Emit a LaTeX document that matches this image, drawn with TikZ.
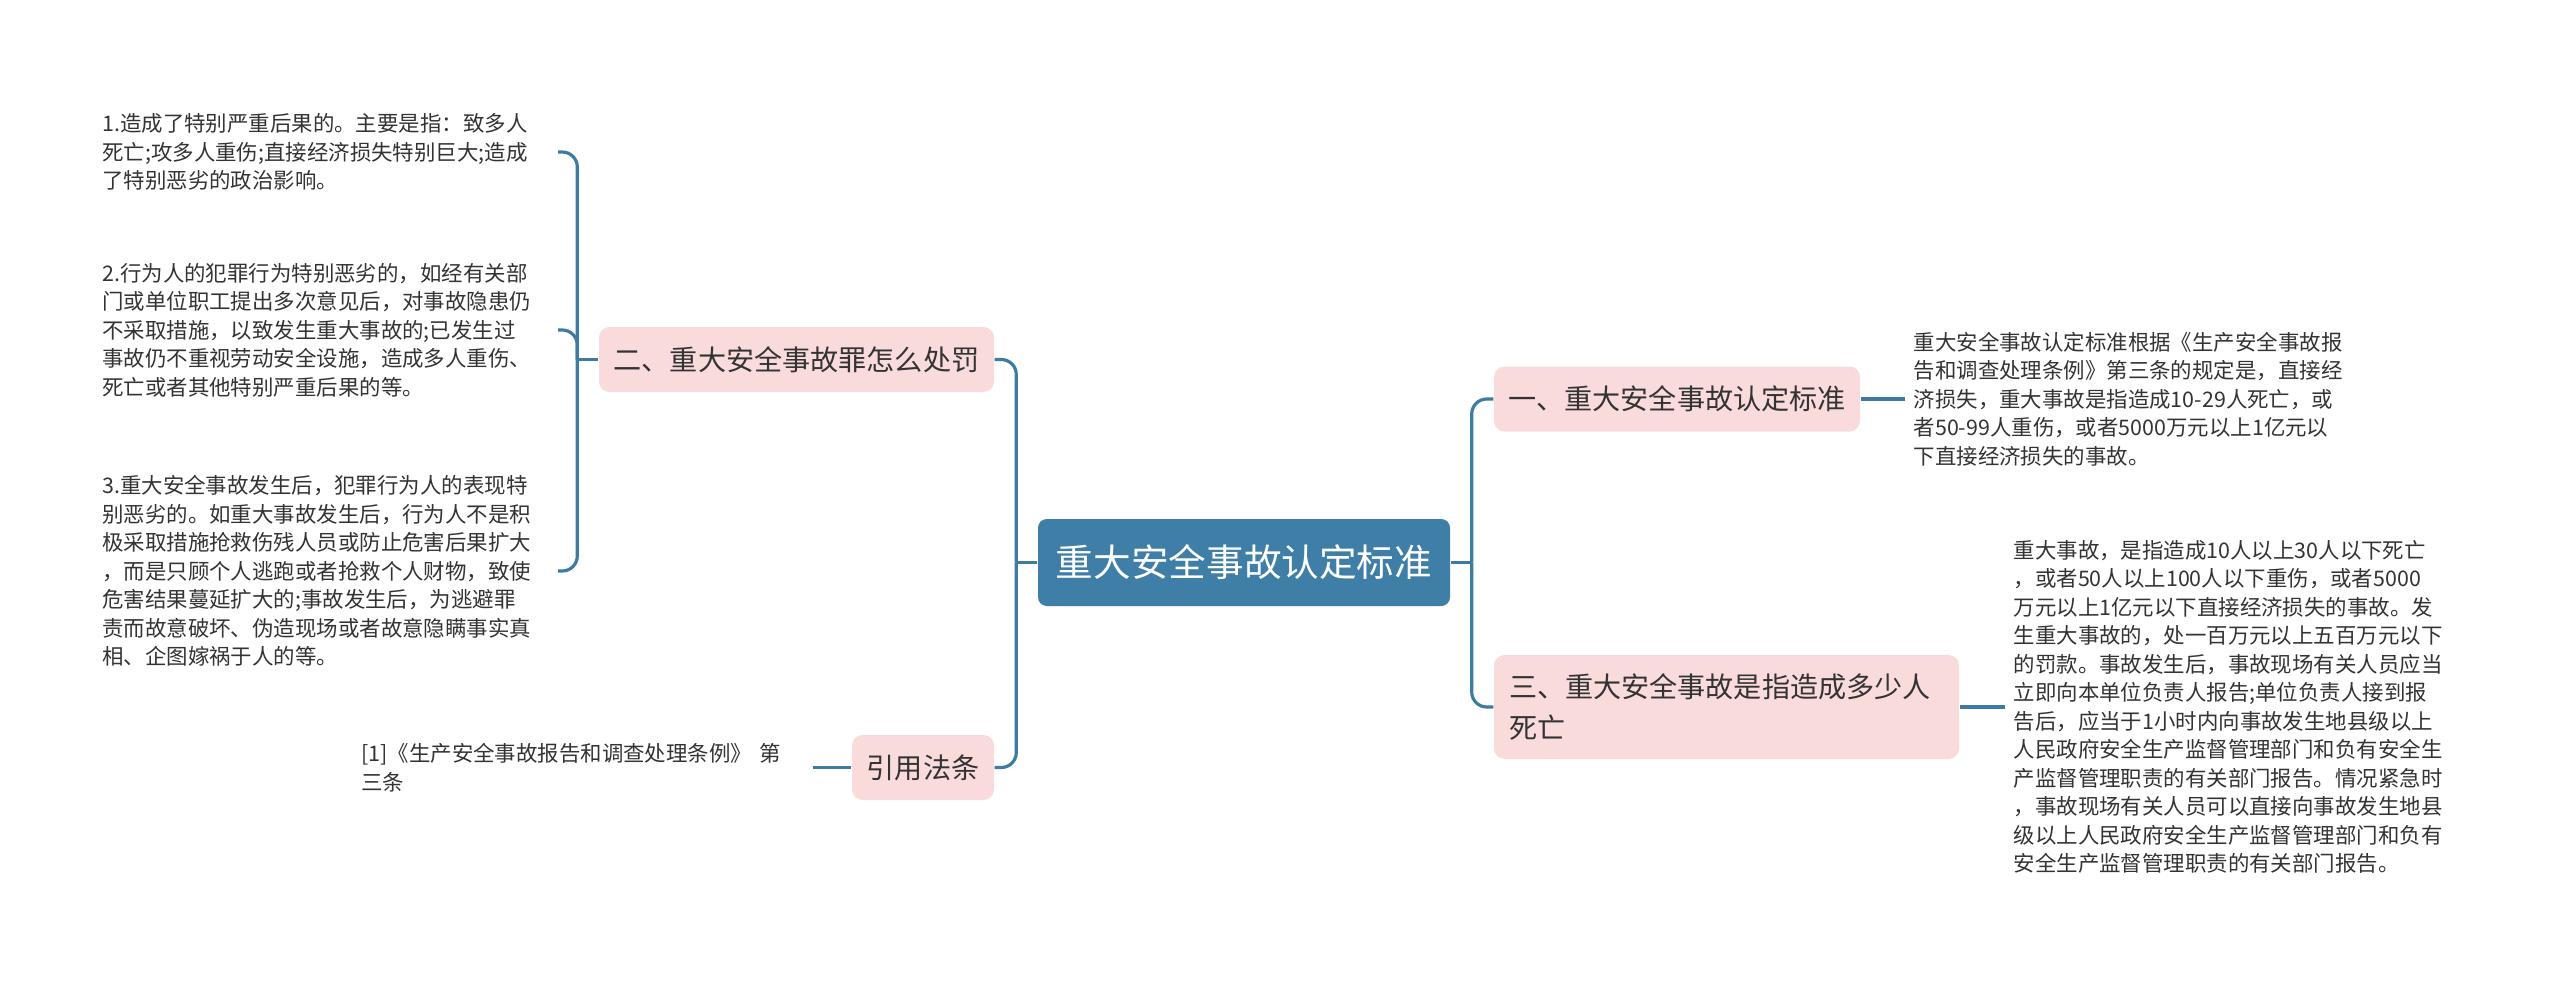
\documentclass[tikz,border=0pt]{standalone}
\usepackage{fontspec}
\setmainfont{Noto Sans CJK SC}
\usetikzlibrary{calc}
\definecolor{mapblue}{HTML}{3F7EA6}
\definecolor{linkblue}{HTML}{3D7BA2}
\definecolor{branchpink}{HTML}{FADBDB}
\definecolor{inktext}{HTML}{333333}

\tikzset{
  rootnode/.style={fill=mapblue,text=white,rounded corners=2.5pt,minimum width=4.12cm,minimum height=0.87cm,font=\fontsize{10.7}{13}\selectfont},
  branchnode/.style={fill=branchpink,text=inktext,rounded corners=3pt,minimum height=0.65cm,font=\fontsize{8}{11.6}\selectfont},
  leaftext/.style={text=inktext,align=left,inner xsep=0.08cm,font=\fontsize{6.1}{8.1}\selectfont},
  link/.style={linkblue,line width=0.9pt},
}

\begin{document}
\begin{tikzpicture}
  % Canvas
  \fill[white] (0,0) rectangle (25.6,-9.84);
  \useasboundingbox (0,0) rectangle (25.6,-9.84);

  % Root
  \node[rootnode] (root) at (12.44,-5.625) {重大安全事故认定标准};

  % Branches
  \node[branchnode,minimum width=3.66cm] (b1) at (16.77,-3.99) {一、重大安全事故认定标准};
  \node[branchnode,minimum width=4.65cm,minimum height=1.04cm,align=left,text width=4.35cm,inner xsep=0.15cm] (b3) at (17.265,-7.07) {三、重大安全事故是指造成多少人\\死亡};
  \node[branchnode,minimum width=3.95cm] (b2) at (7.965,-3.595) {二、重大安全事故罪怎么处罚};
  \node[branchnode,minimum width=1.42cm] (b4) at (9.23,-7.675) {引用法条};

  % Right texts
  \node[leaftext,anchor=west] (t1) at (19.05,-3.99) {重大安全事故认定标准根据《生产安全事故报\\告和调查处理条例》第三条的规定是，直接经\\济损失，重大事故是指造成10-29人死亡，或\\者50-99人重伤，或者5000万元以上1亿元以\\下直接经济损失的事故。};
  \node[leaftext,anchor=west] (t3) at (20.05,-7.07) {重大事故，是指造成10人以上30人以下死亡\\，或者50人以上100人以下重伤，或者5000\\万元以上1亿元以下直接经济损失的事故。发\\生重大事故的，处一百万元以上五百万元以下\\的罚款。事故发生后，事故现场有关人员应当\\立即向本单位负责人报告;单位负责人接到报\\告后，应当于1小时内向事故发生地县级以上\\人民政府安全生产监督管理部门和负有安全生\\产监督管理职责的有关部门报告。情况紧急时\\，事故现场有关人员可以直接向事故发生地县\\级以上人民政府安全生产监督管理部门和负有\\安全生产监督管理职责的有关部门报告。};

  % Left texts
  \node[leaftext,anchor=east,text width=4.47cm] (l1) at (5.58,-1.52) {1.造成了特别严重后果的。主要是指：致多人\\死亡;攻多人重伤;直接经济损失特别巨大;造成\\了特别恶劣的政治影响。};
  \node[leaftext,anchor=east,text width=4.47cm] (l2) at (5.58,-3.30) {2.行为人的犯罪行为特别恶劣的，如经有关部\\门或单位职工提出多次意见后，对事故隐患仍\\不采取措施，以致发生重大事故的;已发生过\\事故仍不重视劳动安全设施，造成多人重伤、\\死亡或者其他特别严重后果的等。};
  \node[leaftext,anchor=east,text width=4.47cm] (l3) at (5.58,-5.71) {3.重大安全事故发生后，犯罪行为人的表现特\\别恶劣的。如重大事故发生后，行为人不是积\\极采取措施抢救伤残人员或防止危害后果扩大\\，而是只顾个人逃跑或者抢救个人财物，致使\\危害结果蔓延扩大的;事故发生后，为逃避罪\\责而故意破坏、伪造现场或者故意隐瞒事实真\\相、企图嫁祸于人的等。};
  \node[leaftext,anchor=east,text width=4.43cm] (c1) at (8.13,-7.675) {[1]《生产安全事故报告和调查处理条例》 第\\三条};

  % Links
  \coordinate (rootL) at ($(root.west)+(-0.21,0)$);
  \coordinate (rootR) at ($(root.east)+(0.21,0)$);
  \coordinate (b2L) at ($(b2.west)+(-0.21,0)$);
  \draw[link] (root.west) -- (rootL);
  \draw[link] (root.east) -- (rootR);
  \draw[link] (b2.west) -- (b2L);
  \foreach \kid in {b2,b4}
    \draw[link,rounded corners=0.15cm] (rootL) |- (\kid.east);
  \foreach \kid in {b1,b3}
    \draw[link,rounded corners=0.15cm] (rootR) |- (\kid.west);
  \foreach \leaf in {l1,l2,l3}
    \draw[link,rounded corners=0.15cm] (b2L) |- (\leaf.east);
  \draw[link] (b1.east) -- (t1.west);
  \draw[link] (b3.east) -- (t3.west);
  \draw[link] (c1.east) -- (b4.west);
\end{tikzpicture}
\end{document}
